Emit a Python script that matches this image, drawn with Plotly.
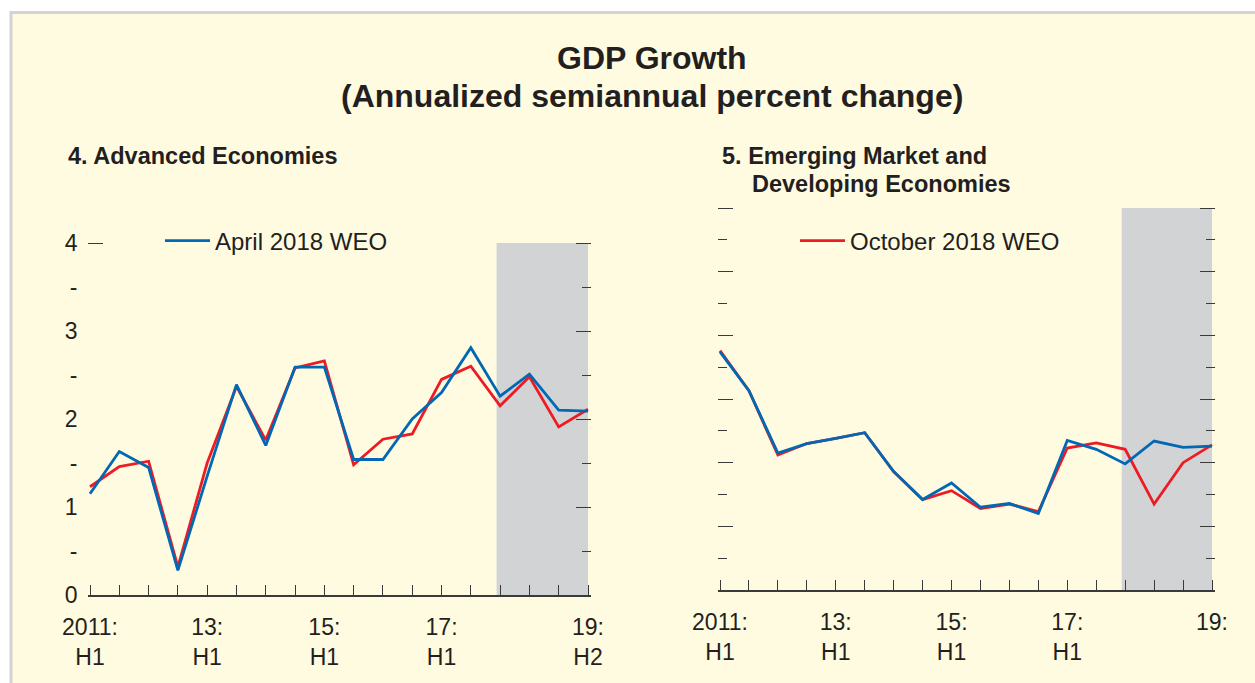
import plotly.graph_objects as go

W, H = 1255, 683

# ---------------- data ----------------
periods = ["2011:H1", "2011:H2", "2012:H1", "2012:H2", "2013:H1", "2013:H2",
           "2014:H1", "2014:H2", "2015:H1", "2015:H2", "2016:H1", "2016:H2",
           "2017:H1", "2017:H2", "2018:H1", "2018:H2", "2019:H1", "2019:H2"]
x_idx = list(range(len(periods)))

adv_ticktext = ["2011:<br>H1", "", "", "", "13:<br>H1", "", "", "", "15:<br>H1", "",
                "", "", "17:<br>H1", "", "", "", "", "19:<br>H2"]
emde_ticktext = ["2011:<br>H1", "", "", "", "13:<br>H1", "", "", "", "15:<br>H1", "",
                 "", "", "17:<br>H1", "", "", "", "", "19:"]

adv_apr = [1.15, 1.63, 1.45, 0.28, 1.35, 2.39, 1.70, 2.59, 2.59, 1.54, 1.54, 2.00,
           2.30, 2.81, 2.26, 2.51, 2.10, 2.09]
adv_oct = [1.23, 1.46, 1.52, 0.32, 1.50, 2.37, 1.76, 2.58, 2.66, 1.48, 1.77, 1.83,
           2.45, 2.60, 2.15, 2.48, 1.91, 2.11]
emde_apr = [6.74, 6.13, 5.15, 5.30, 5.38, 5.47, 4.86, 4.42, 4.68, 4.30, 4.36, 4.20,
            5.35, 5.21, 4.98, 5.34, 5.24, 5.26]
emde_oct = [6.76, 6.13, 5.12, 5.30, 5.38, 5.47, 4.86, 4.42, 4.56, 4.28, 4.35, 4.23,
            5.23, 5.31, 5.21, 4.35, 5.00, 5.28]

adv_yticks = [0, 0.5, 1, 1.5, 2, 2.5, 3, 3.5, 4]
adv_yticktext = ["0", "-", "1", "-", "2", "-", "3", "-", "4"]
adv_major = [1, 2, 3, 4]
adv_minor = [0.5, 1.5, 2.5, 3.5]
ADV_MIN, ADV_MAX = 0, 4
emde_major = [4, 5, 6, 7, 8, 9]
emde_minor = [3.5, 4.5, 5.5, 6.5, 7.5, 8.5]
EMDE_MIN, EMDE_MAX = 3, 9

SHADE_START = 13.88   # forecast period
SHADE_END = 17

# ---------------- style / geometry (pixels) ----------------
BLUE = "#0068B4"
RED = "#ED1C24"
TXT = "#231F20"
AX = "#3A3A3A"
BG = "#FFFBE0"
SHADE = "#D2D3D5"
FONT = "Liberation Sans, Arial, sans-serif"
PAD = 2.5  # px of padding so that end ticks are not clipped
LW = 2.8

L_X0, L_X1, L_Y0, L_Y1 = 90, 588, 595, 243     # left panel data box
R_X0, R_X1, R_Y0, R_Y1 = 720, 1212, 590, 208    # right panel data box
NX = len(x_idx) - 1


def px_x(p):
    return p / W


def px_y(p):
    return 1 - p / H


def xgeom(x0, x1):
    upp = NX / (x1 - x0)
    return [px_x(x0 - PAD), px_x(x1 + PAD)], [-PAD * upp, NX + PAD * upp]


def ygeom(y0, y1, vmin, vmax):
    upp = (vmax - vmin) / (y0 - y1)
    return [px_y(y0), px_y(y1 - PAD)], [vmin, vmax + PAD * upp]


lxd, lxr = xgeom(L_X0, L_X1)
rxd, rxr = xgeom(R_X0, R_X1)
lyd, lyr = ygeom(L_Y0, L_Y1, ADV_MIN, ADV_MAX)
ryd, ryr = ygeom(R_Y0, R_Y1, EMDE_MIN, EMDE_MAX)

fig = go.Figure()

fig.add_trace(go.Scatter(x=x_idx, y=adv_oct, mode="lines", line=dict(color=RED, width=LW),
                         name="October 2018 WEO", showlegend=False, xaxis="x", yaxis="y"))
fig.add_trace(go.Scatter(x=x_idx, y=adv_apr, mode="lines", line=dict(color=BLUE, width=LW),
                         name="April 2018 WEO", showlegend=True, legend="legend",
                         xaxis="x", yaxis="y"))
# invisible carriers so the overlay tick axes get drawn
for ya in ("y3", "y4"):
    fig.add_trace(go.Scatter(x=x_idx, y=adv_apr, mode="lines", line=dict(width=0),
                             opacity=0, showlegend=False, hoverinfo="skip",
                             xaxis="x", yaxis=ya))
fig.add_trace(go.Scatter(x=x_idx, y=emde_oct, mode="lines", line=dict(color=RED, width=LW),
                         name="October 2018 WEO", showlegend=True, legend="legend2",
                         xaxis="x2", yaxis="y2"))
fig.add_trace(go.Scatter(x=x_idx, y=emde_apr, mode="lines", line=dict(color=BLUE, width=LW),
                         name="April 2018 WEO", showlegend=False, xaxis="x2", yaxis="y2"))

xcommon = dict(tickmode="array", tickvals=x_idx, ticks="inside",
               ticklen=10, tickwidth=1.3, tickcolor=AX, showline=True, linecolor=AX,
               linewidth=1.5, showgrid=False, zeroline=False,
               tickfont=dict(size=23, color=TXT, family=FONT),
               ticklabelstandoff=11, automargin=False, fixedrange=True)

fig.update_layout(
    width=W, height=H, margin=dict(l=0, r=0, t=0, b=0),
    paper_bgcolor="white", plot_bgcolor="rgba(0,0,0,0)",
    font=dict(family=FONT, color=TXT),
    xaxis=dict(domain=lxd, range=lxr, anchor="y", ticktext=adv_ticktext, **xcommon),
    xaxis2=dict(domain=rxd, range=rxr, anchor="y2", ticktext=emde_ticktext, **xcommon),
    yaxis=dict(domain=lyd, anchor="x", range=lyr, tickmode="array",
               tickvals=adv_yticks, ticktext=adv_yticktext, ticks="", showline=False,
               showgrid=False, zeroline=False, ticklabelstandoff=9,
               tickfont=dict(size=23, color=TXT, family=FONT), automargin=False),
    yaxis3=dict(overlaying="y", side="right", anchor="x", range=lyr, tickmode="array",
                tickvals=adv_major, ticks="inside", ticklen=15, tickwidth=1.3, tickcolor=AX,
                minor=dict(tickmode="array", tickvals=adv_minor, ticks="inside",
                           ticklen=9, tickwidth=1.3, tickcolor=AX),
                showticklabels=False, showline=False, showgrid=False, zeroline=False),
    yaxis4=dict(overlaying="y", side="left", anchor="x", range=lyr, tickmode="array",
                tickvals=[ADV_MAX], ticks="inside", ticklen=15, tickwidth=1.3, tickcolor=AX,
                showticklabels=False, showline=False, showgrid=False, zeroline=False),
    yaxis2=dict(domain=ryd, anchor="x2", range=ryr, tickmode="array",
                tickvals=emde_major, ticks="inside", ticklen=15, tickwidth=1.3,
                tickcolor=AX, mirror="ticks",
                minor=dict(tickmode="array", tickvals=emde_minor,
                           ticks="inside", ticklen=9, tickwidth=1.3, tickcolor=AX),
                showticklabels=False, showline=False, showgrid=False, zeroline=False,
                automargin=False),
    legend=dict(x=px_x(160), y=px_y(241), xanchor="left", yanchor="middle",
                bgcolor="rgba(0,0,0,0)", borderwidth=0, itemwidth=45,
                font=dict(size=24, color=TXT, family=FONT)),
    legend2=dict(x=px_x(795), y=px_y(241), xanchor="left", yanchor="middle",
                 bgcolor="rgba(0,0,0,0)", borderwidth=0, itemwidth=45,
                 font=dict(size=24, color=TXT, family=FONT)),
)

# background panel with grey frame
fig.add_shape(type="rect", xref="paper", yref="paper", x0=px_x(11), x1=1.05, y0=-0.05,
              y1=px_y(12.5), fillcolor=BG, line=dict(color="#D3D3D3", width=3), layer="below")
# forecast shading
for xr, yr, y0, y1 in (("x", "y", ADV_MIN, ADV_MAX), ("x2", "y2", EMDE_MIN, EMDE_MAX)):
    fig.add_shape(type="rect", xref=xr, yref=yr, x0=SHADE_START, x1=SHADE_END, y0=y0, y1=y1,
                  fillcolor=SHADE, line=dict(width=0), layer="below")

ann = [
    ("GDP Growth", 652, 58, "center", 32),
    ("(Annualized semiannual percent change)", 652, 96, "center", 32),
    ("4. Advanced Economies", 66, 156, "left", 23.5),
    ("5. Emerging Market and", 720, 156, "left", 23.5),
    ("Developing Economies", 750, 184, "left", 23.5),
]
for text, xp, yp, anchor, size in ann:
    fig.add_annotation(text=f"<b>{text}</b>", xref="paper", yref="paper",
                       x=px_x(xp), y=px_y(yp), xanchor=anchor, yanchor="middle",
                       showarrow=False, font=dict(size=size, color=TXT, family=FONT))

fig.write_html("out.html", config={"displayModeBar": False},
               post_script="document.body.style.margin='0';")
